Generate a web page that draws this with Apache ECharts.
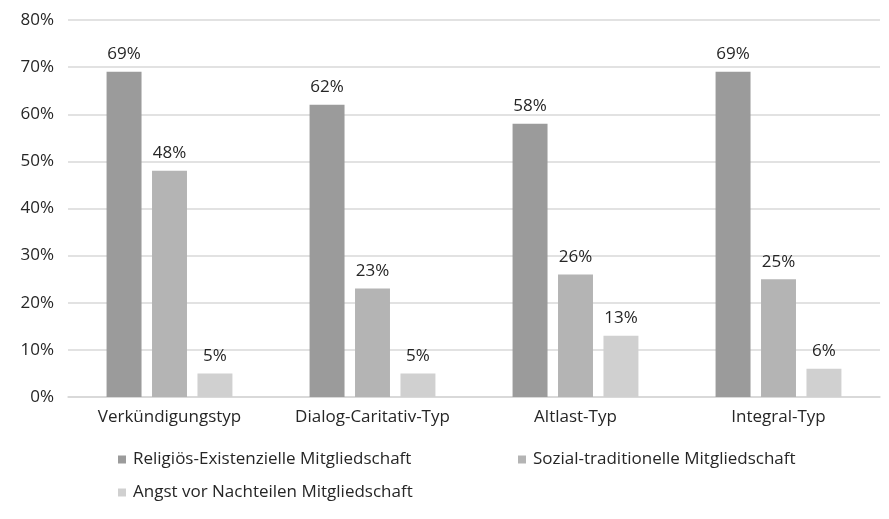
<!DOCTYPE html>
<html>
<head>
<meta charset="utf-8">
<script src="https://cdn.jsdelivr.net/npm/echarts@6/dist/echarts.min.js"></script>
<style>
  html, body { margin: 0; padding: 0; background: #fff; }
  #chart { width: 889px; height: 519px; }
</style>
</head>
<body>
<div id="chart"></div>
<script>
const categories = ['Verkündigungstyp', 'Dialog-Caritativ-Typ', 'Altlast-Typ', 'Integral-Typ']
const seriesNames = [
  'Religiös-Existenzielle Mitgliedschaft',
  'Sozial-traditionelle Mitgliedschaft',
  'Angst vor Nachteilen Mitgliedschaft'
]
const religioes = [69, 62, 58, 69]
const sozial = [48, 23, 26, 25]
const angst = [5, 5, 13, 6]
const colors = ['#9b9b9b', '#b4b4b4', '#d0d0d0']

const font = '"Open Sans", "Noto Sans", sans-serif'
const chart = echarts.init(document.getElementById('chart'))

const makeSeries = (name, data, color) => ({
  name,
  type: 'bar',
  data,
  barGap: '30%',
  barCategoryGap: '38%',
  itemStyle: { color },
  label: {
    show: true,
    position: 'top',
    distance: 9,
    formatter: '{c}%',
    color: '#262626',
    fontSize: 17,
    fontFamily: font
  }
})

const legendBase = {
  icon: 'rect',
  itemWidth: 8,
  itemHeight: 8,
  itemGap: 0,
  textStyle: { color: '#262626', fontSize: 17, fontFamily: font, padding: [0, 0, 0, 2] }
}

chart.setOption({
  animation: false,
  color: colors,
  grid: { left: 68, right: 9, top: 20, bottom: 122 },
  legend: [
    { ...legendBase, data: [seriesNames[0]], left: 113, top: 446 },
    { ...legendBase, data: [seriesNames[1]], left: 513, top: 446 },
    { ...legendBase, data: [seriesNames[2]], left: 113, top: 479 }
  ],
  xAxis: {
    type: 'category',
    data: categories,
    axisTick: { show: false },
    axisLine: { lineStyle: { color: '#d6d6d6', width: 1.5 } },
    axisLabel: { color: '#262626', fontSize: 17, fontFamily: font, margin: 12 }
  },
  yAxis: {
    type: 'value',
    min: 0,
    max: 80,
    interval: 10,
    axisLabel: { formatter: '{value}%', color: '#262626', fontSize: 17, fontFamily: font, margin: 14 },
    splitLine: { lineStyle: { color: '#d9d9d9', width: 1.5 } }
  },
  series: [
    makeSeries(seriesNames[0], religioes, colors[0]),
    makeSeries(seriesNames[1], sozial, colors[1]),
    makeSeries(seriesNames[2], angst, colors[2])
  ]
})
</script>
</body>
</html>
